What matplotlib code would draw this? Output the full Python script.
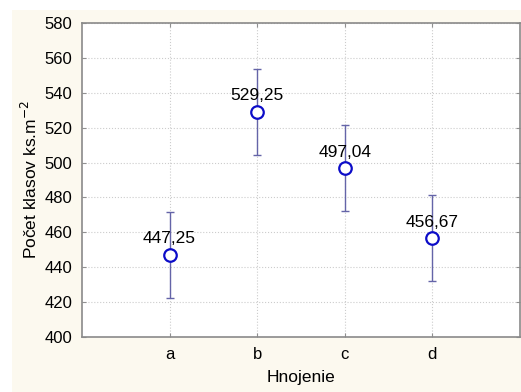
import matplotlib
matplotlib.use("Agg")
import matplotlib.pyplot as plt
from matplotlib.patches import Rectangle

categories = ["a", "b", "c", "d"]
means = [447.25, 529.25, 497.04, 456.67]
lower = [422.6, 504.6, 472.4, 432.0]
upper = [471.9, 553.9, 521.7, 481.3]
y_ticks = [400, 420, 440, 460, 480, 500, 520, 540, 560, 580]

plt.rcParams["font.family"] = ["Liberation Sans", "DejaVu Sans"]

fig = plt.figure(figsize=(5.21, 3.92), dpi=100)
fig.patch.set_facecolor("white")
# cream background panel, leaves a thin white strip top and left
fig.patches.append(Rectangle((12 / 521, 0), 1, 1 - 10 / 392, transform=fig.transFigure,
                             facecolor="#fcf9ef", edgecolor="none", zorder=-10))

ax = fig.add_axes([82 / 521, 1 - 337 / 392, 438 / 521, (337 - 23) / 392])
ax.set_facecolor("white")

x = list(range(1, len(categories) + 1))
err_lo = [m - l for m, l in zip(means, lower)]
err_hi = [u - m for m, u in zip(means, upper)]
ax.errorbar(x, means, yerr=[err_lo, err_hi], fmt="none", ecolor="#6464a8",
            elinewidth=1, capsize=3, capthick=1, zorder=2)
ax.plot(x, means, "o", markersize=9, markerfacecolor="white",
        markeredgecolor="#0c0cc8", markeredgewidth=1.6, zorder=3)

for xi, m in zip(x, means):
    ax.annotate(f"{m:.2f}".replace(".", ","), (xi, m), xytext=(0, 8),
                textcoords="offset points", ha="center", va="baseline", fontsize=12.5)

ax.set_xlim(0, 5)
ax.set_ylim(400, 580)
ax.set_xticks(x)
ax.set_xticklabels(categories)
ax.set_yticks(y_ticks)
ax.tick_params(direction="in", top=True, right=True, labelsize=12,
               color="#909090", length=3)
ax.tick_params(axis="y", pad=7)
ax.tick_params(axis="x", pad=7)
ax.grid(True, linestyle=":", color="#cccccc", linewidth=0.8)
ax.set_axisbelow(True)
for s in ax.spines.values():
    s.set_color("#8a8a8a")
    s.set_linewidth(1.2)

ax.set_xlabel("Hnojenie", fontsize=12.5, labelpad=6)
ax.set_ylabel("Počet klasov ks.m$^{-2}$", fontsize=12.5, labelpad=3)

fig.savefig("out.png", dpi=100)
